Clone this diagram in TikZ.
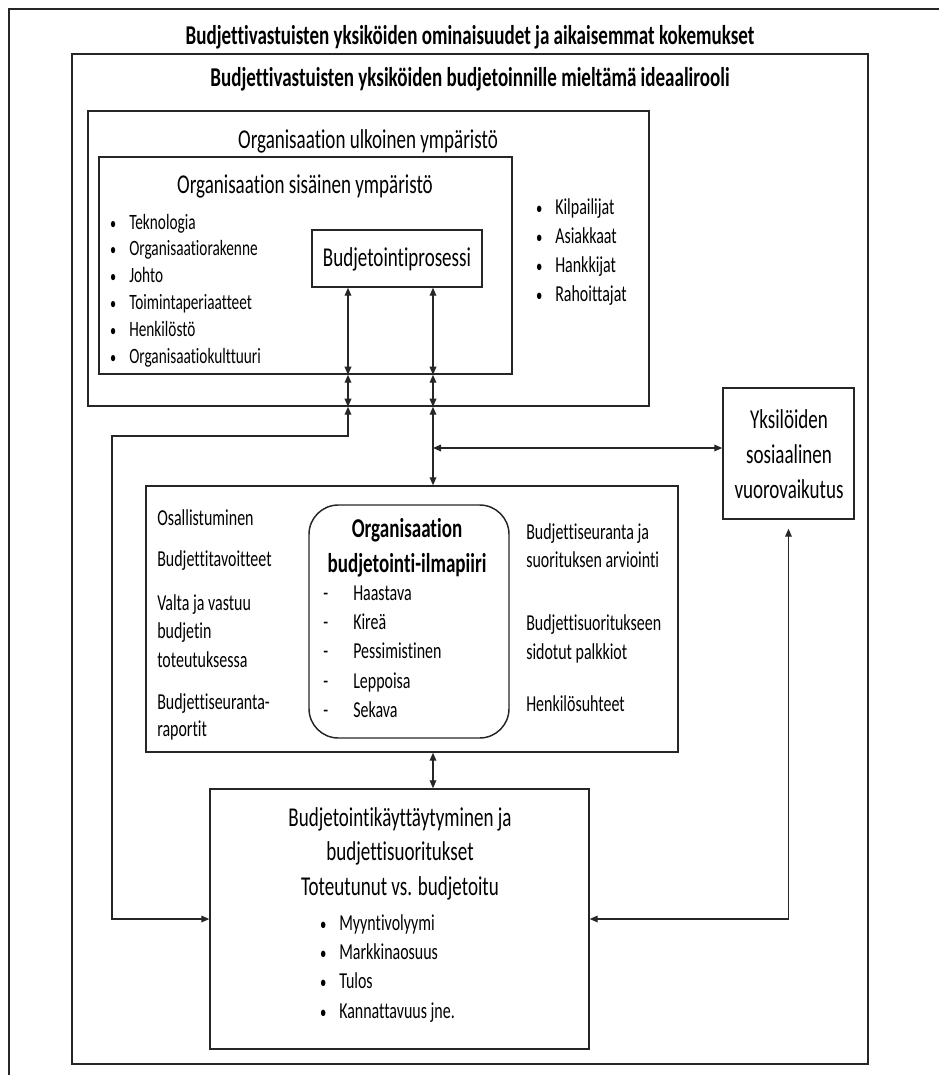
\documentclass[tikz,border=0pt]{standalone}
\usepackage{fontspec}
\setmainfont{Carlito}[FakeStretch=0.70, Ligatures=NoCommon]
\usetikzlibrary{arrows.meta,fit}

% list helpers: bullet centred 12pt left of the item text
\newcommand\blt{\llap{\makebox[24pt][c]{\scalebox{0.8}{•}}}}
\newcommand\dsh{\makebox[22.5pt][l]{-}}
\newcommand\rows[1]{\begin{tabular}[t]{@{}l@{}}#1\end{tabular}}
\newcommand\crows[1]{\begin{tabular}[t]{@{}c@{}}#1\end{tabular}}

\begin{document}
\begin{tikzpicture}[x=0.75pt,y=-0.75pt,
  panel/.style={draw=black!85, line width=1.1pt, inner sep=0pt, fit=#1},
  roundpanel/.style={panel=#1, rounded corners=22pt},
  hd/.style={font=\fontsize{20.4}{#1}\selectfont, inner sep=0pt, text=black},
  hdb/.style={font=\fontsize{20.4}{#1}\selectfont\bfseries, inner sep=0pt, text=black},
  txt/.style={font=\fontsize{17.1}{#1}\selectfont, inner sep=0pt, text=black},
  txs/.style={font=\fontsize{16.4}{#1}\selectfont, inner sep=0pt, text=black},
  dbl/.style={draw=black!85, line width=0.9pt,
    {Triangle[length=6pt,width=5pt]}-{Triangle[length=6pt,width=5pt]}}]

\useasboundingbox (0,0) rectangle (939,1075);

% outer frame (runs off the right and bottom edges)
\coordinate (fTR) at (939,9);
\coordinate (fTL) at (9,9);
\coordinate (fBL) at (9,1075);
\draw[draw=black!85, line width=1.1pt] (fTR) -- (fTL) -- (fBL);

\node[hdb=26pt, anchor=base] (t1) at (470,44)
  {Budjettivastuisten yksiköiden ominaisuudet ja aikaisemmat kokemukset};

% box corner points
\coordinate (idNW) at (72,54);    \coordinate (idSE) at (868,1064);
\coordinate (ulkNW) at (88,111);  \coordinate (ulkSE) at (649,406);
\coordinate (sisNW) at (99,157);  \coordinate (sisSE) at (512,374);
\coordinate (bpNW) at (312,230);  \coordinate (bpSE) at (482,287);
\coordinate (midNW) at (146,486); \coordinate (midSE) at (678,752);
\coordinate (rbNW) at (309,505);  \coordinate (rbSE) at (509,738);
\coordinate (yksNW) at (723,388); \coordinate (yksSE) at (854,519);
\coordinate (botNW) at (210,789); \coordinate (botSE) at (589,1049);

\node[panel=(idNW)(idSE)] (ideal) {};
\node[panel=(ulkNW)(ulkSE)] (ulk) {};
\node[panel=(sisNW)(sisSE)] (sis) {};
\node[panel=(bpNW)(bpSE)] (bp) {};
\node[panel=(midNW)(midSE)] (mid) {};
\node[roundpanel=(rbNW)(rbSE)] (rb) {};
\node[panel=(yksNW)(yksSE)] (yks) {};
\node[panel=(botNW)(botSE)] (bot) {};

\node[hdb=26pt, anchor=base] (t2) at (470,86)
  {Budjettivastuisten yksiköiden budjetoinnille mieltämä ideaalirooli};

% environments
\node[hd=26pt, anchor=base] (ulkT) at (368,148) {Organisaation ulkoinen ympäristö};
\node[hd=26pt, anchor=base] (sisT) at (305,193) {Organisaation sisäinen ympäristö};
\node[hd=26pt, anchor=base] (bpT) at (397,266) {Budjetointiprosessi};

\node[txs=20.1pt, anchor=base west] (sisL) at (129,229) {\rows{%
  \blt Teknologia\\ \blt Organisaatiorakenne\\ \blt Johto\\
  \blt Toimintaperiaatteet\\ \blt Henkilöstö\\ \blt Organisaatiokulttuuri}};

\node[txt=21.75pt, anchor=base west] (ulkL) at (555,214) {\rows{%
  \blt Kilpailijat\\ \blt Asiakkaat\\ \blt Hankkijat\\ \blt Rahoittajat}};

% budgeting climate
\node[txt=21pt, anchor=base west] (mlA) at (157,525) {Osallistuminen};
\node[txt=21pt, anchor=base west] (mlB) at (157,566) {Budjettitavoitteet};
\node[txt=21.5pt, anchor=base west] (mlC) at (157,610)
  {\rows{Valta ja vastuu\\ budjetin\\ toteutuksessa}};
\node[txt=20.25pt, anchor=base west] (mlD) at (157,709)
  {\rows{Budjettiseuranta-\\ raportit}};

\node[hdb=26.25pt, anchor=base] (rbT) at (407,537)
  {\crows{Organisaation\\ budjetointi-ilmapiiri}};
\node[txt=22.1pt, anchor=base west] (rbL) at (323,600) {\rows{%
  \dsh Haastava\\ \dsh Kireä\\ \dsh Pessimistinen\\ \dsh Leppoisa\\ \dsh Sekava}};

\node[txt=21pt, anchor=base west] (mrA) at (526,539)
  {\rows{Budjettiseuranta ja\\ suorituksen arviointi}};
\node[txt=21.75pt, anchor=base west] (mrB) at (526,630)
  {\rows{Budjettisuoritukseen\\ sidotut palkkiot}};
\node[txt=21pt, anchor=base west] (mrC) at (526,711) {Henkilösuhteet};

\node[hd=26.25pt, anchor=base] (yksT) at (789,428)
  {\crows{Yksilöiden\\ sosiaalinen\\ vuorovaikutus}};

\node[hd=25.9pt, anchor=base] (botT) at (400,826)
  {\crows{Budjetointikäyttäytyminen ja\\ budjettisuoritukset\\ Toteutunut vs. budjetoitu}};
\node[txt=22pt, anchor=base west] (botL) at (339,930) {\rows{%
  \blt Myyntivolyymi\\ \blt Markkinaosuus\\ \blt Tulos\\ \blt Kannattavuus jne.}};

% connector routing points
\coordinate (cA) at (348,0);
\coordinate (cB) at (433,0);
\coordinate (lx) at (112,436);
\coordinate (hy) at (0,448);
\coordinate (rx) at ([yshift=-6.75pt]yks.south);

\draw[dbl] (bp.south -| cA) -- (sis.south -| cA);
\draw[dbl] (sis.south -| cA) -- (ulk.south -| cA);
\draw[dbl] (bot.west) -- (bot.west -| lx) -- (lx) -- (lx -| cA) -- (ulk.south -| cA);

\draw[dbl] (bp.south -| cB) -- (sis.south -| cB);
\draw[dbl] (sis.south -| cB) -- (ulk.south -| cB);
\draw[dbl] (ulk.south -| cB) -- (mid.north -| cB);
\draw[dbl] (hy -| cB) -- (hy -| yks.west);
\draw[dbl] (mid.south -| cB) -- (bot.north -| cB);
\draw[dbl] (bot.east) -- (bot.east -| rx) -- (rx);

\end{tikzpicture}
\end{document}
